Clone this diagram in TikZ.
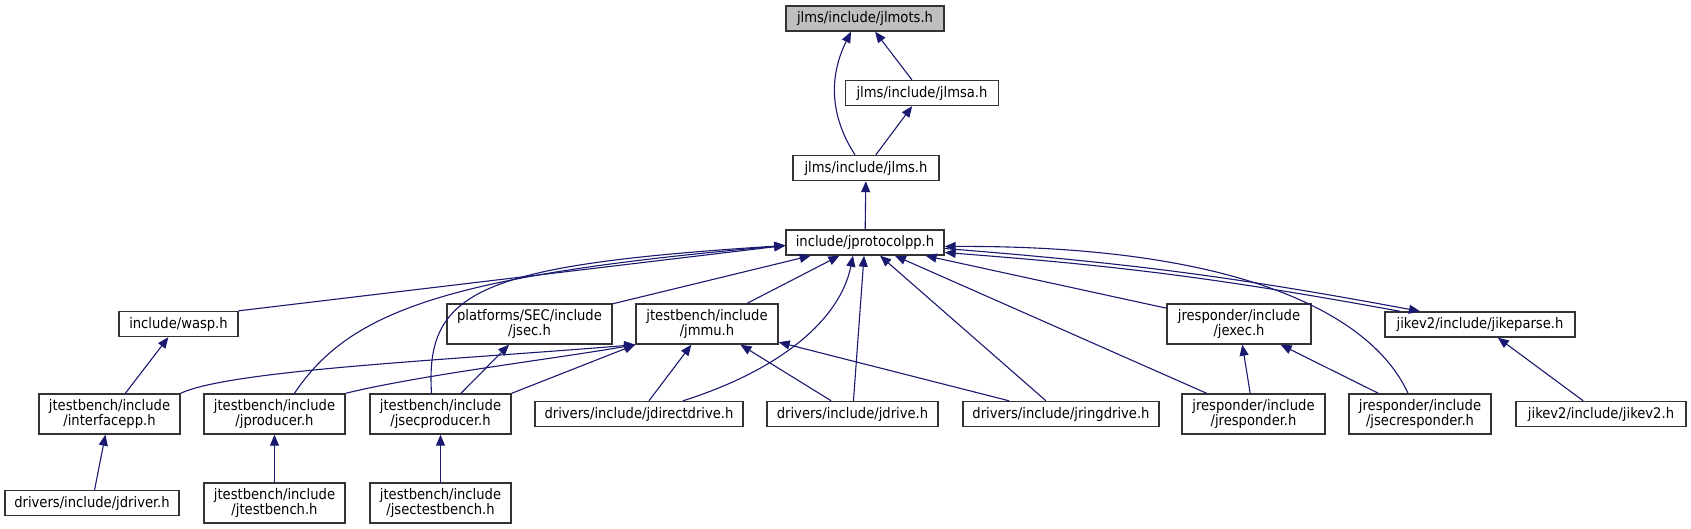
\documentclass[tikz,border=0pt]{standalone}
\usepackage{fontspec}
\setmainfont{DejaVu Sans Condensed}
\usepackage{tikz}
\usetikzlibrary{arrows.meta,positioning,calc}
\definecolor{edgeblue}{RGB}{25,25,112}
\definecolor{rootgray}{RGB}{191,191,191}
\tikzset{
  hdr/.style={draw=black!80,fill=white,line width=0.7pt,minimum height=12.5pt,
              inner sep=0pt,align=center,font=\fontsize{7.3}{7.6}\selectfont},
  hdrB/.style={hdr,minimum height=20pt},
  dep/.style={-{Triangle[length=5.5pt,width=4.5pt]},edgeblue,line width=0.55pt},
}

\begin{document}
\begin{tikzpicture}[x=0.5pt,y=-0.5pt]
    \useasboundingbox (0,0) rectangle (1691,529);
    % headers, top to bottom
    \node[hdr,fill=rootgray,minimum width=79pt] (jlmots) at (865,18.5) {jlms/include/jlmots.h};
    \node[hdr,minimum width=76.5pt] (jlmsa) at (922,93) {jlms/include/jlmsa.h};
    \node[hdr,minimum width=73pt] (jlms) at (866,168) {jlms/include/jlms.h};
    \node[hdr,minimum width=79pt] (proto) at (865,242.5) {include/jprotocolpp.h};
    \node[hdr,minimum width=59.5pt] (wasp) at (178.5,324) {include/wasp.h};
    \node[hdrB,minimum width=82.5pt] (jsec) at (529.5,324) {platforms/SEC/include\\/jsec.h};
    \node[hdrB,minimum width=71pt] (jmmu) at (707,324) {jtestbench/include\\/jmmu.h};
    \node[hdrB,minimum width=72pt] (jexec) at (1239,324) {jresponder/include\\/jexec.h};
    \node[hdr,minimum width=95pt] (jikeparse) at (1480,324.5) {jikev2/include/jikeparse.h};
    \node[hdrB,minimum width=70.5pt] (ifacepp) at (109.5,414) {jtestbench/include\\/interfacepp.h};
    \node[hdrB,minimum width=70.5pt] (jprod) at (274.5,414) {jtestbench/include\\/jproducer.h};
    \node[hdrB,minimum width=70.5pt] (jsecprod) at (440.5,414) {jtestbench/include\\/jsecproducer.h};
    \node[hdr,minimum width=104pt] (jdirect) at (639,414) {drivers/include/jdirectdrive.h};
    \node[hdr,minimum width=85.5pt] (jdrive) at (852.5,414) {drivers/include/jdrive.h};
    \node[hdr,minimum width=98pt] (jring) at (1061,414) {drivers/include/jringdrive.h};
    \node[hdrB,minimum width=71.5pt] (jresp) at (1253.5,414) {jresponder/include\\/jresponder.h};
    \node[hdrB,minimum width=71pt] (jsecresp) at (1420,414) {jresponder/include\\/jsecresponder.h};
    \node[hdr,minimum width=85pt] (jikev2) at (1601,414) {jikev2/include/jikev2.h};
    \node[hdr,minimum width=87pt] (jdriver) at (92,503) {drivers/include/jdriver.h};
    \node[hdrB,minimum width=70.5pt] (jtb) at (274.5,503) {jtestbench/include\\/jtestbench.h};
    \node[hdrB,minimum width=70.5pt] (jsectb) at (440.5,503) {jtestbench/include\\/jsectestbench.h};
    % top chain
    \draw[dep] ([xshift=-5.5pt]jlms.north) .. controls (826,110) and (832,70) .. ([xshift=-7pt]jlmots.south);
    \draw[dep] (jlmsa) -- (jlmots);
    \draw[dep] (jlms) -- (jlmsa);
    \draw[dep] (proto) -- (jlms);
    % into jprotocolpp
    \draw[dep] (wasp.north east) -- ([yshift=-1.5pt]proto.west);
    \draw[dep] ([xshift=10pt]jprod.north) .. controls (350,310) and (450,275) .. ([yshift=-1.5pt]proto.west);
    \draw[dep] ([xshift=-4.5pt]jsecprod.north) .. controls (425,290) and (480,265) .. ([yshift=-1.5pt]proto.west);
    \draw[dep] (jsec) -- (proto);
    \draw[dep] (jmmu) -- (proto);
    \draw[dep] ([xshift=22pt]jdirect.north) .. controls (780,370) and (840,320) .. ([xshift=-6pt]proto.south);
    \draw[dep] (jdrive) -- (proto);
    \draw[dep] (jring) -- (proto);
    \draw[dep] (jexec) -- (proto);
    \draw[dep] (jresp) -- (proto);
    \draw[dep] ([xshift=-6pt]jsecresp.north) .. controls (1370,310) and (1230,245) .. ([yshift=-2pt]proto.east);
    \draw[dep] ([yshift=-3pt]proto.east) to[bend left=3] ([xshift=-30pt]jikeparse.north);
    \draw[dep] ([xshift=-40pt]jikeparse.north) to[bend right=3] ([yshift=-5pt]proto.east);
    % into jmmu
    \draw[dep] (ifacepp.north east) .. controls (230,370) and (450,360) .. (jmmu.south west);
    \draw[dep] (jprod.north east) .. controls (420,375) and (560,358) .. (jmmu.south west);
    \draw[dep] (jsecprod.north east) -- (jmmu.south west);
    \draw[dep] (jdirect) -- (jmmu);
    \draw[dep] (jdrive) -- (jmmu);
    \draw[dep] (jring) -- (jmmu);
    % the rest
    \draw[dep] (jsecprod) -- (jsec);
    \draw[dep] (ifacepp) -- (wasp);
    \draw[dep] (jdriver) -- (ifacepp);
    \draw[dep] (jtb) -- (jprod);
    \draw[dep] (jsectb) -- (jsecprod);
    \draw[dep] (jresp) -- (jexec);
    \draw[dep] (jsecresp) -- (jexec);
    \draw[dep] (jikev2) -- (jikeparse);
\end{tikzpicture}
\end{document}
